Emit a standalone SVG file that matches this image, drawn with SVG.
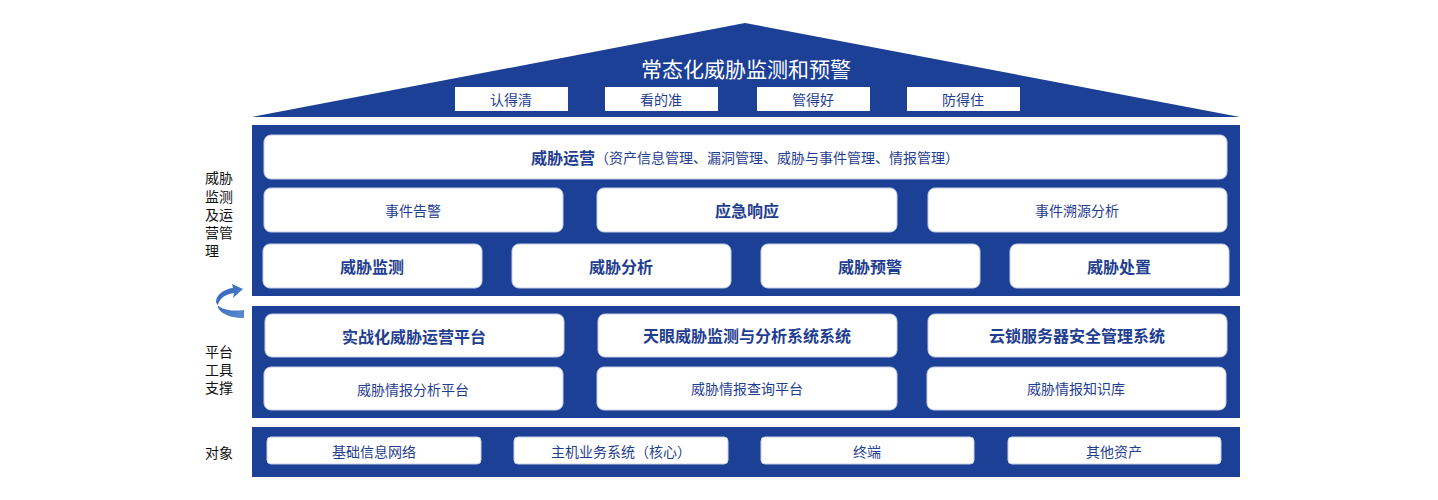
<svg xmlns="http://www.w3.org/2000/svg" width="1438" height="500" viewBox="0 0 1438 500">
<style>
text{font-family:"Noto Sans CJK SC","Noto Sans",sans-serif;text-anchor:middle;dominant-baseline:central}
.p{fill:#1b4096}
.b{fill:#fff;stroke:#c8d0e6;stroke-width:1}
.t{fill:#1f3e8f;font-size:14px}
.tb{fill:#1f3e8f;font-size:16px;font-weight:bold}
.s{fill:#fff}
.l{fill:#111;font-size:14px;text-anchor:start}
</style>
<defs>
<linearGradient id="ag" x1="0" y1="0" x2="1" y2="1"><stop offset="0" stop-color="#2d62b8"/><stop offset="1" stop-color="#5a8ad0"/></linearGradient>
</defs>
<rect width="1438" height="500" fill="#fff"/>
<g id="roof">
<polygon class="p" points="252,117 745,23 1240,117"/>
<text x="746" y="68" fill="#fff" font-size="21">常态化威胁监测和预警</text>
<rect class="s" x="455" y="87" width="113" height="24"/><text class="t" x="511" y="99">认得清</text>
<rect class="s" x="605" y="87" width="113" height="24"/><text class="t" x="661" y="99">看的准</text>
<rect class="s" x="757" y="87" width="113" height="24"/><text class="t" x="813" y="99">管得好</text>
<rect class="s" x="907" y="87" width="113" height="24"/><text class="t" x="963" y="99">防得住</text>
</g>
<g id="ops">
<rect class="p" x="252" y="125" width="988" height="171"/>
<rect class="b" x="264" y="135" width="963" height="44" rx="7"/>
<text x="745" y="157" fill="#1f3e8f"><tspan font-size="16" font-weight="bold">威胁运营</tspan><tspan font-size="14">（资产信息管理、漏洞管理、威胁与事件管理、情报管理）</tspan></text>
<rect class="b" x="264" y="188" width="299" height="44" rx="7"/><text class="t" x="413" y="210">事件告警</text>
<rect class="b" x="597" y="188" width="300" height="44" rx="7"/><text class="tb" x="747" y="210">应急响应</text>
<rect class="b" x="928" y="188" width="299" height="44" rx="7"/><text class="t" x="1077" y="210">事件溯源分析</text>
<rect class="b" x="263" y="244" width="219" height="44" rx="7"/><text class="tb" x="372" y="266">威胁监测</text>
<rect class="b" x="512" y="244" width="219" height="44" rx="7"/><text class="tb" x="621" y="266">威胁分析</text>
<rect class="b" x="761" y="244" width="219" height="44" rx="7"/><text class="tb" x="870" y="266">威胁预警</text>
<rect class="b" x="1010" y="244" width="219" height="44" rx="7"/><text class="tb" x="1119" y="266">威胁处置</text>
</g>
<g id="tools">
<rect class="p" x="252" y="306" width="988" height="112"/>
<rect class="b" x="265" y="314" width="299" height="43" rx="7"/><text class="tb" x="414" y="336">实战化威胁运营平台</text>
<rect class="b" x="598" y="314" width="299" height="43" rx="7"/><text class="tb" x="747" y="335">天眼威胁监测与分析系统系统</text>
<rect class="b" x="928" y="314" width="299" height="43" rx="7"/><text class="tb" x="1077" y="335">云锁服务器安全管理系统</text>
<rect class="b" x="264" y="367" width="299" height="43" rx="7"/><text class="t" x="413" y="389">威胁情报分析平台</text>
<rect class="b" x="597" y="367" width="300" height="43" rx="7"/><text class="t" x="747" y="388">威胁情报查询平台</text>
<rect class="b" x="927" y="367" width="299" height="43" rx="7"/><text class="t" x="1076" y="388">威胁情报知识库</text>
</g>
<g id="objects">
<rect class="p" x="252" y="427" width="988" height="50"/>
<rect class="b" x="267" y="437" width="214" height="27" rx="4"/><text class="t" x="374" y="451">基础信息网络</text>
<rect class="b" x="514" y="437" width="214" height="27" rx="4"/><text class="t" x="621" y="451">主机业务系统（核心）</text>
<rect class="b" x="761" y="437" width="213" height="27" rx="4"/><text class="t" x="867" y="451">终端</text>
<rect class="b" x="1008" y="437" width="213" height="27" rx="4"/><text class="t" x="1114" y="451">其他资产</text>
</g>
<g id="labels">
<text class="l" x="205" y="177">威胁</text>
<text class="l" x="205" y="196">监测</text>
<text class="l" x="205" y="214">及运</text>
<text class="l" x="205" y="232">营管</text>
<text class="l" x="205" y="250">理</text>
<text class="l" x="205" y="351">平台</text>
<text class="l" x="205" y="369">工具</text>
<text class="l" x="205" y="387">支撑</text>
<text class="l" x="205" y="452">对象</text>
</g>
<g id="connectors">
<path d="M244,318 C226,318 214,310 219,302 C222,296 228,294 234,293 L233,298 L243,289 L232,284 L233,288 C224,289 216,295 216,302 C218,309 230,312 244,310 Z" fill="url(#ag)"/>
</g>
</svg>
